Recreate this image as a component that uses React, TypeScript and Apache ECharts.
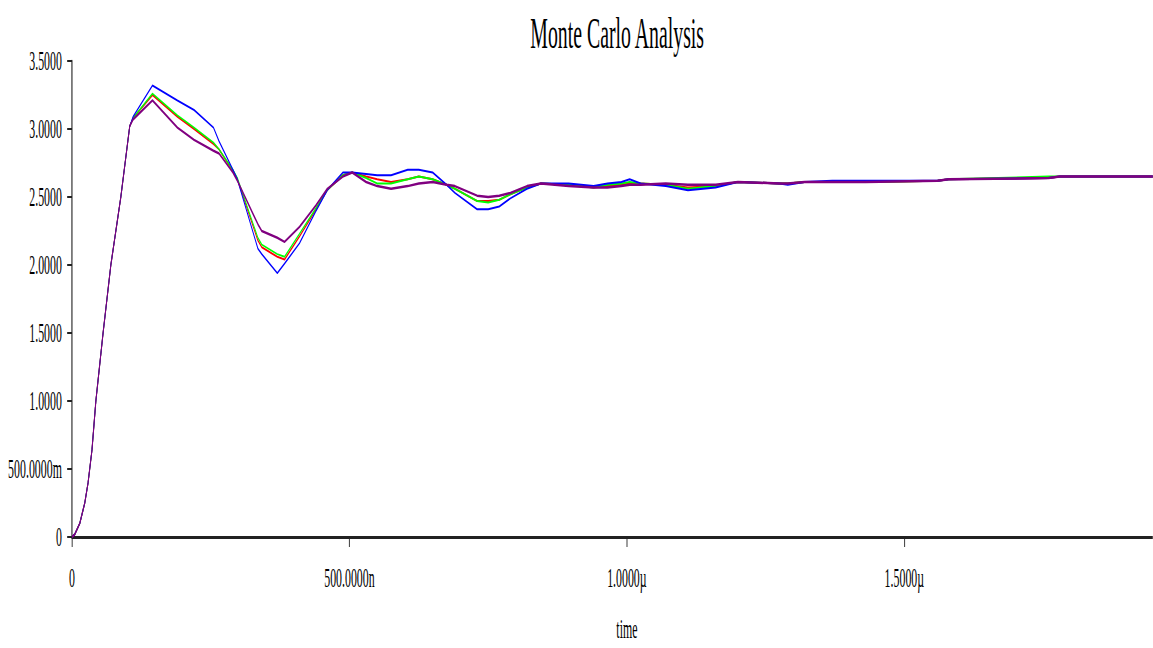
import React, { useEffect, useRef } from "react";
import * as echarts from "echarts";

// time in ns
const times = [0, 5, 14, 23, 29, 36, 43, 56, 70, 88, 104, 110, 145, 190, 220, 255, 265, 290, 298, 335, 342, 370, 383, 410, 440, 460, 488, 505, 530, 550, 575, 605, 625, 650, 675, 690, 730, 750, 770, 790, 820, 845, 895, 940, 965, 990, 1005, 1025, 1070, 1110, 1160, 1200, 1275, 1290, 1320, 1370, 1430, 1560, 1580, 1760, 1780, 1950];

const rise = [0, 0.02, 0.1, 0.25, 0.4, 0.64, 1.0, 1.5, 2.0, 2.5, 3.02];

const redValues = [...rise,
  3.08, 3.25, 3.09, 3.0, 2.89, 2.85, 2.69, 2.63, 2.18, 2.13,
  2.06, 2.04, 2.21, 2.41, 2.55, 2.66, 2.68, 2.65, 2.63, 2.61,
  2.63, 2.65, 2.63, 2.59, 2.56, 2.47, 2.47, 2.48, 2.52, 2.57,
  2.6, 2.59, 2.57, 2.58, 2.59, 2.6, 2.6, 2.59, 2.57, 2.58,
  2.61, 2.6, 2.6, 2.61, 2.61, 2.61, 2.62, 2.63, 2.64, 2.65,
  2.65];

const greenValues = [...rise,
  3.08, 3.26, 3.1, 3.01, 2.9, 2.85, 2.7, 2.64, 2.2, 2.15,
  2.08, 2.06, 2.23, 2.42, 2.55, 2.66, 2.68, 2.64, 2.6, 2.6,
  2.63, 2.65, 2.63, 2.59, 2.56, 2.47, 2.46, 2.48, 2.52, 2.57,
  2.6, 2.59, 2.57, 2.59, 2.6, 2.61, 2.6, 2.59, 2.56, 2.58,
  2.61, 2.6, 2.6, 2.61, 2.61, 2.61, 2.62, 2.63, 2.65, 2.65,
  2.65];

const blueValues = [...rise,
  3.09, 3.32, 3.21, 3.14, 3.01, 2.91, 2.7, 2.63, 2.12, 2.08,
  1.94, 2.01, 2.16, 2.4, 2.55, 2.68, 2.68, 2.67, 2.66, 2.66,
  2.7, 2.7, 2.68, 2.59, 2.53, 2.41, 2.41, 2.43, 2.49, 2.56,
  2.6, 2.6, 2.58, 2.6, 2.61, 2.63, 2.6, 2.58, 2.55, 2.57,
  2.61, 2.6, 2.59, 2.61, 2.62, 2.62, 2.62, 2.63, 2.64, 2.65,
  2.65];

const purpleValues = [...rise,
  3.07, 3.21, 3.01, 2.92, 2.84, 2.82, 2.68, 2.62, 2.3, 2.25,
  2.2, 2.17, 2.28, 2.44, 2.56, 2.65, 2.68, 2.61, 2.58, 2.56,
  2.58, 2.6, 2.61, 2.59, 2.58, 2.51, 2.5, 2.51, 2.53, 2.58,
  2.6, 2.58, 2.57, 2.57, 2.58, 2.59, 2.59, 2.6, 2.59, 2.59,
  2.61, 2.6, 2.6, 2.61, 2.61, 2.61, 2.62, 2.63, 2.64, 2.65,
  2.65];

const seriesNames = ["run 1", "run 2", "run 3", "run 4"];
const seriesColors = ["#ff0000", "#00ff00", "#0000ff", "#800080"];
const seriesValues = [redValues, greenValues, blueValues, purpleValues];

const K = 0.44; // horizontal squeeze of the whole picture
const FONT = '"Liberation Serif", "Times New Roman", serif';

function fmtY(v: number): string {
  if (v === 0) return "0";
  if (v < 1) return (v * 1000).toFixed(4) + "m";
  return v.toFixed(4);
}
function fmtX(v: number): string {
  if (v % 500 !== 0 || v >= 2000) return "";
  if (v === 0) return "0";
  if (v < 1000) return v.toFixed(4) + "n";
  return (v / 1000).toFixed(4) + "\u00b5";
}

export default function App() {
  const ref = useRef<HTMLDivElement>(null);
  useEffect(() => {
    if (!ref.current) return;
    const chart = echarts.init(ref.current, undefined, { renderer: "svg" });
    const innerW = 1153 / K;
    chart.setOption({
      animation: false,
      backgroundColor: "#ffffff",
      title: {
        text: "Monte Carlo Analysis",
        left: 615 / K,
        top: 6,
        textAlign: "center",
        textStyle: { fontFamily: FONT, fontSize: 45, fontWeight: "normal", color: "#000" },
      },
      grid: {
        left: 72 / K,
        right: innerW - (72 + 1110) / K,
        top: 61,
        bottom: 648 - 537,
        containLabel: false,
        outerBoundsMode: "none",
      },
      xAxis: {
        type: "value",
        min: 0,
        max: 2000,
        interval: 500,
        name: "time",
        nameLocation: "middle",
        nameGap: 78,
        nameTextStyle: { fontFamily: FONT, fontSize: 27, color: "#000" },
        axisLine: { show: true, onZero: false, lineStyle: { color: "#222", width: 3 } },
        axisTick: { show: true, length: 10, lineStyle: { color: "#222", width: 2 } },
        axisLabel: { margin: 27, fontFamily: FONT, fontSize: 27, color: "#000", formatter: fmtX },
        splitLine: { show: false },
      },
      yAxis: {
        type: "value",
        min: 0,
        max: 3.5,
        interval: 0.5,
        axisLine: { show: true, lineStyle: { color: "#222", width: 2.5 } },
        axisTick: { show: true, length: 11, lineStyle: { color: "#222", width: 2 } },
        axisLabel: { margin: 23, fontFamily: FONT, fontSize: 27, color: "#000", formatter: fmtY },
        splitLine: { show: false },
      },
      series: seriesNames.map((name, i) => ({
        name,
        type: "line",
        showSymbol: false,
        data: times.map((t, j) => [t, seriesValues[i][j]]),
        lineStyle: { color: seriesColors[i], width: i === 3 ? 2.5 : 2 },
        itemStyle: { color: seriesColors[i] },
        z: 2 + i,
      })),
    });
    return () => chart.dispose();
  }, []);
  return (
    <div style={{ position: "fixed", left: 0, top: 0, width: 1153, height: 648, overflow: "hidden", background: "#fff" }}>
      <div
        ref={ref}
        style={{ width: 1153 / K, height: 648, transform: `scaleX(${K})`, transformOrigin: "0 0" }}
      />
    </div>
  );
}
